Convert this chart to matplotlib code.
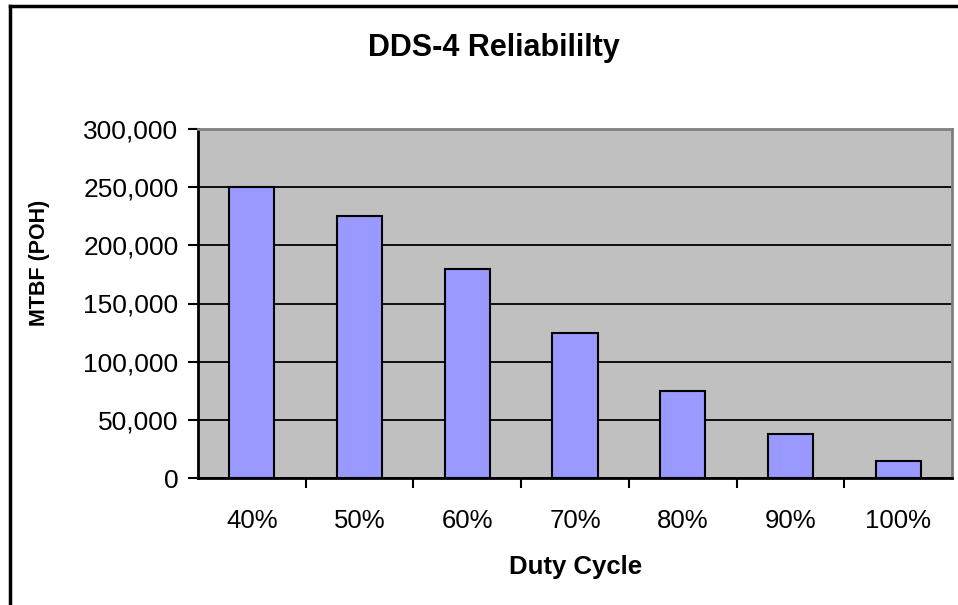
import matplotlib
matplotlib.use('Agg')
import matplotlib.pyplot as plt
from matplotlib.lines import Line2D
from matplotlib.ticker import FuncFormatter

# Duty cycle vs MTBF
duty_cycle = ["40%", "50%", "60%", "70%", "80%", "90%", "100%"]
mtbf = [250000, 225000, 180000, 125000, 75000, 37500, 15000]
y_ticks = [0, 50000, 100000, 150000, 200000, 250000, 300000]

plt.rcParams['font.family'] = ['Liberation Sans', 'DejaVu Sans']

fig = plt.figure(figsize=(9.58, 6.05), dpi=100)
ax = fig.add_axes([198/958, 1 - 478/605, (952 - 198)/958, (478 - 129)/605])

x = list(range(len(duty_cycle)))
ax.set_facecolor('#C0C0C0')
ax.bar(x, mtbf, width=0.42, color='#9999FF', edgecolor='black', linewidth=1.5, zorder=3)

ax.set_xlim(-0.5, len(duty_cycle) - 0.5)
ax.set_ylim(0, 300000)
ax.set_yticks(y_ticks)
ax.yaxis.set_major_formatter(FuncFormatter(lambda v, p: '{:,.0f}'.format(v)))
ax.grid(axis='y', color='black', linewidth=1.3, zorder=1)

# category labels at centres, tick marks at boundaries
ax.set_xticks(x)
ax.set_xticklabels(duty_cycle)
ax.set_xticks([i + 0.5 for i in x[:-1]], minor=True)
ax.tick_params(axis='x', which='major', length=0, pad=22, labelsize=18.5)
ax.tick_params(axis='x', which='minor', length=7, width=1.5, direction='out')
ax.tick_params(axis='y', length=7, width=1.5, direction='out', pad=7, labelsize=19)

for s in ['left', 'bottom']:
    ax.spines[s].set_color('black')
    ax.spines[s].set_linewidth(2)
for s in ['top', 'right']:
    ax.spines[s].set_color('#808080')
    ax.spines[s].set_linewidth(2)

fig.text(576/958, 1 - 567/605, 'Duty Cycle', fontsize=18.5, fontweight='bold',
         ha='center', va='center')
fig.text(40/958, 1 - 263/605, 'MTBF (POH)', fontsize=15.5, fontweight='bold',
         ha='center', va='center', rotation=90)
fig.text(494/958, 1 - 48/605, 'DDS-4 Reliabililty', fontsize=22, fontweight='bold',
         ha='center', va='center')

# chart frame (only top and left edges are visible)
fig.add_artist(Line2D([10/958, 1.0], [1 - 6/605, 1 - 6/605], transform=fig.transFigure,
                      color='black', linewidth=2.5))
fig.add_artist(Line2D([10/958, 10/958], [0.0, 1 - 6/605], transform=fig.transFigure,
                      color='black', linewidth=2.5))

plt.savefig('out.png', dpi=100)
